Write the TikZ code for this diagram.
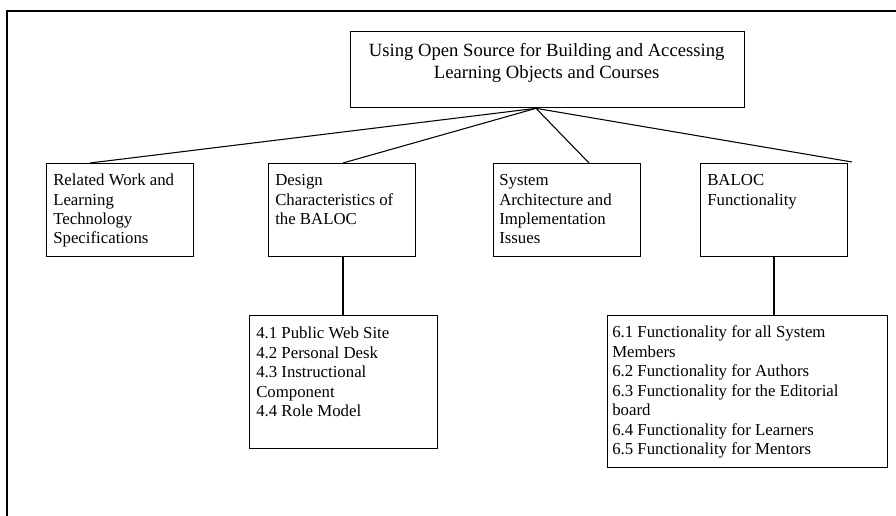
\documentclass[tikz,border=0pt]{standalone}
\usepackage{fontspec}
\setmainfont{Liberation Serif}
\usetikzlibrary{calc}
\begin{document}
\begin{tikzpicture}[x=0.75pt,y=-0.75pt,
  box/.style={draw, line width=1pt, inner sep=0pt, anchor=north west},
  link/.style={line width=0.8pt},
  frameline/.style={line width=1.5pt, line join=miter},
  txt/.style={inner sep=0pt, anchor=base west, font=\fontsize{12.6}{14.3}\selectfont},
  txtb/.style={inner sep=0pt, anchor=base west, font=\fontsize{12.6}{14.6}\selectfont}]
\useasboundingbox (0,0) rectangle (896,516);
% outer frame (top and left edges only visible)
\coordinate (fbl) at (7,517);
\coordinate (ftl) at (7,11);
\coordinate (ftr) at (897,11);
\draw[frameline] (fbl) -- (ftl) -- (ftr);
% root
\node[box, minimum width=295.5pt, minimum height=57pt] (root) at (350,31) {};
\node[inner sep=0pt, anchor=base] (roottxt) at ($(root.north)+(-1,26)$)
  {\parbox[t]{290pt}{\centering\fontsize{14}{16.5}\selectfont Using Open Source for Building and Accessing\\ Learning Objects and Courses}};
% second level
\node[box, minimum width=110.25pt, minimum height=69.75pt] (a) at (46,163) {};
\node[txt] (atxt) at ($(a.north west)+(7,23)$) {\parbox[t]{140pt}{Related Work and\\Learning\\Technology\\Specifications}};
\node[box, minimum width=110.25pt, minimum height=69.75pt] (b) at (268,163) {};
\node[txt] (btxt) at ($(b.north west)+(7,23)$) {\parbox[t]{140pt}{Design\\Characteristics of\\the BALOC}};
\node[box, minimum width=110.25pt, minimum height=69.75pt] (c) at (493,163) {};
\node[txt] (ctxt) at ($(c.north west)+(6,23)$) {\parbox[t]{140pt}{System\\Architecture and\\Implementation\\Issues}};
\node[box, minimum width=110.25pt, minimum height=69.75pt] (d) at (700,163) {};
\node[txt] (dtxt) at ($(d.north west)+(7,23)$) {\parbox[t]{140pt}{BALOC\\Functionality}};
% third level
\node[box, minimum width=141pt, minimum height=99.75pt] (e) at (249,315) {};
\node[txtb] (etxt) at ($(e.north west)+(7,24)$) {\parbox[t]{160pt}{4.1 Public Web Site\\4.2 Personal Desk\\4.3 Instructional\\Component\\4.4 Role Model}};
\node[box, minimum width=210pt, minimum height=114pt] (f) at (607,315) {};
\node[txtb] (ftxt) at ($(f.north west)+(5,23)$) {\parbox[t]{230pt}{6.1 Functionality for all System\\Members\\6.2 Functionality for Authors\\6.3 Functionality for the Editorial\\board\\6.4 Functionality for Learners\\6.5 Functionality for Mentors}};
% connectors
\coordinate (rb) at ($(root.south west)+(186,0)$);
\coordinate (ain) at ($(a.north west)+(44,0)$);
\coordinate (bin) at ($(b.north west)+(75,0)$);
\coordinate (cin) at ($(c.north west)+(96,0)$);
\coordinate (din) at ($(d.north west)+(152,-1)$);
\draw[link] (rb) -- (ain);
\draw[link] (rb) -- (bin);
\draw[link] (rb) -- (cin);
\draw[link] (rb) -- (din);
\draw[link] ($(b.south west)+(75,0)$) -- ($(e.north west)+(94,0)$);
\draw[link] ($(d.south west)+(74,0)$) -- ($(f.north west)+(167,0)$);
\end{tikzpicture}
\end{document}
